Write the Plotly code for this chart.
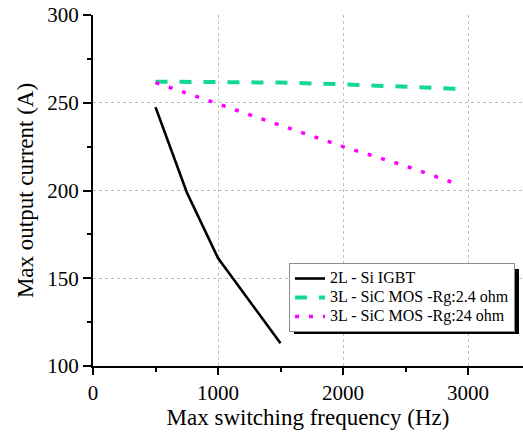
import plotly.graph_objects as go

# Maximum output current versus switching frequency for three converter designs
freq_igbt = [500, 750, 1000, 1250, 1500]
current_igbt = [247.5, 199, 161.5, 137, 113]

freq_sic_24 = [500, 1000, 1500, 2000, 2500, 2900]
current_sic_24 = [262, 262, 261.5, 260.5, 259.3, 258]

freq_sic_240 = [500, 1000, 1500, 2000, 2500, 2900]
current_sic_240 = [261.5, 249.5, 237, 225, 214, 204]

series_names = [
    "2L - Si IGBT",
    "3L - SiC MOS -Rg:2.4 ohm",
    "3L - SiC MOS -Rg:24 ohm",
]

FONT = "Liberation Serif"
GRID = "#bdbdbd"


def legend_label(text):
    # larger glyphs inside a compact legend row
    return f'<span style="font-size:16px">{text}</span>'


fig = go.Figure()
fig.add_trace(go.Scatter(x=freq_igbt, y=current_igbt, mode="lines", name=legend_label(series_names[0]),
                         line=dict(color="black", width=2.6)))
fig.add_trace(go.Scatter(x=freq_sic_24, y=current_sic_24, mode="lines", name=legend_label(series_names[1]),
                         line=dict(color="#12d98f", width=4, dash="12px,12px")))
fig.add_trace(go.Scatter(x=freq_sic_240, y=current_sic_240, mode="lines", name=legend_label(series_names[2]),
                         line=dict(color="#ff00ff", width=3.5, dash="4px,10px")))

x_range = [0, 3440]

fig.update_layout(
    width=523, height=439,
    margin=dict(l=93, r=0, t=15, b=73),
    paper_bgcolor="white", plot_bgcolor="white",
    font=dict(family=FONT, color="black"),
    xaxis=dict(
        range=x_range, dtick=1000, tick0=0,
        showline=True, linecolor="black", linewidth=2,
        ticks="outside", ticklen=7, tickwidth=1.5, tickcolor="black",
        minor=dict(dtick=500, ticks="outside", ticklen=3.5, tickwidth=1.5, tickcolor="black", showgrid=False),
        showgrid=True, gridcolor=GRID, gridwidth=1, griddash="3px,3px",
        zeroline=False,
        tickfont=dict(size=21, family=FONT),
        title=dict(text="Max switching frequency (Hz)", font=dict(size=23, family=FONT), standoff=5),
    ),
    xaxis2=dict(
        range=x_range, dtick=1000, tick0=0, overlaying="x", side="top", anchor="y",
        showline=True, linecolor="black", linewidth=2,
        ticks="inside", ticklen=6, tickwidth=1.5, tickcolor="black",
        minor=dict(dtick=500, ticks="inside", ticklen=3, tickwidth=1.5, tickcolor="black", showgrid=False),
        showgrid=False, zeroline=False, showticklabels=False,
    ),
    yaxis=dict(
        range=[100, 300], dtick=50, tick0=100,
        showline=True, linecolor="black", linewidth=2,
        ticks="outside", ticklen=8, tickwidth=1.5, tickcolor="black",
        minor=dict(dtick=25, ticks="outside", ticklen=4, tickwidth=1.5, tickcolor="black", showgrid=False),
        showgrid=True, gridcolor=GRID, gridwidth=1, griddash="3px,3px",
        zeroline=False,
        tickfont=dict(size=21, family=FONT),
        title=dict(text="Max output current (A)", font=dict(size=23, family=FONT), standoff=7),
    ),
    legend=dict(
        x=0.4558, y=0.2934, xanchor="left", yanchor="top",
        bgcolor="white", bordercolor="#8c8c8c", borderwidth=1,
        font=dict(size=12, family=FONT, color="black"),
        tracegroupgap=0,
    ),
    showlegend=True,
)

# Drop shadow behind the legend box
fig.add_shape(type="rect", xref="paper", yref="paper",
              x0=0.4674, x1=0.9907, y0=0.0912, y1=0.2764,
              fillcolor="black", line=dict(width=0), layer="above")

fig.write_html("out.html")
